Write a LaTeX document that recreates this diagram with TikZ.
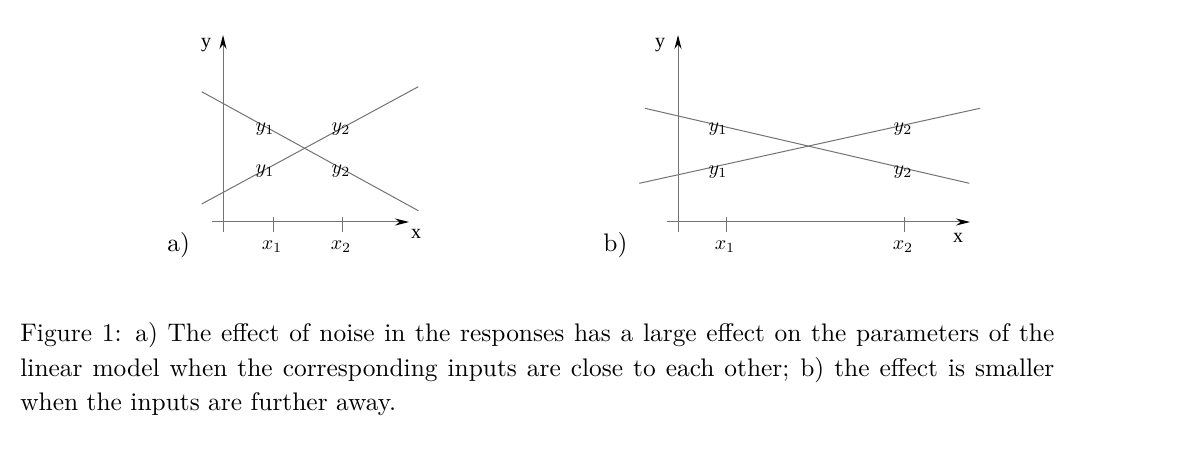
\documentclass[tikz,border=0pt]{standalone}
\usepackage{amsmath}
\usepackage{fontspec}
\usepackage{tikz}
\usetikzlibrary{arrows.meta}
\newfontfamily\xfigfont{Liberation Serif}
\newfontfamily\capfont{lmroman10-regular.otf}

\begin{document}
\begin{tikzpicture}[x=0.5pt,y=-0.5pt,
  axis/.style={draw=black!55,line width=0.5pt,-{Stealth[length=7pt,width=3.5pt,black]}},
  fitline/.style={draw=black!55,line width=0.5pt},
  tick/.style={draw=black!55,line width=0.5pt},
  axlabel/.style={font=\xfigfont\fontsize{10}{12}\selectfont,inner sep=0pt},
  ptlabel/.style={font=\fontsize{10}{12}\selectfont,inner sep=0pt},
  panel/.style={font=\capfont\fontsize{12.7}{14}\selectfont,inner sep=0pt,anchor=base west}]
\useasboundingbox (0,0) rectangle (1177,459);

% a) inputs close to each other
\draw [axis] (223,232) -- (223,35);
\draw [axis] (212,222) -- (409,222);
\draw [tick] (273,217) -- (273,232);
\draw [tick] (342,217) -- (342,232);
\draw [fitline] (201.7,91.7) -- (418.3,210.7);
\draw [fitline] (201.7,204) -- (418.3,86.7);
\node [axlabel] (ya) at (206,45) {y};
\node [axlabel] (xa) at (416,234) {x};
\node [ptlabel,anchor=base] (xa1) at (272,250) {$x_1$};
\node [ptlabel,anchor=base] (xa2) at (341,250) {$x_2$};
\node [ptlabel] (ya1up) at (265,129) {$y_1$};
\node [ptlabel] (ya1lo) at (265,171) {$y_1$};
\node [ptlabel] (ya2up) at (341,129) {$y_2$};
\node [ptlabel] (ya2lo) at (341,171) {$y_2$};
\node [panel] (pa) at (167,252) {a)};

% b) inputs further away
\draw [axis] (678,232) -- (678,35);
\draw [axis] (667,222) -- (970,222);
\draw [tick] (726,217) -- (726,232);
\draw [tick] (904,217) -- (904,232);
\draw [fitline] (645,108.3) -- (969.3,183.3);
\draw [fitline] (639.3,183.3) -- (980,108.3);
\node [axlabel] (yb) at (660,45) {y};
\node [axlabel] (xb) at (958,238) {x};
\node [ptlabel,anchor=base] (xb1) at (725,250) {$x_1$};
\node [ptlabel,anchor=base] (xb2) at (903,250) {$x_2$};
\node [ptlabel] (yb1up) at (718,129) {$y_1$};
\node [ptlabel] (yb1lo) at (718,172) {$y_1$};
\node [ptlabel] (yb2up) at (903,129) {$y_2$};
\node [ptlabel] (yb2lo) at (903,172) {$y_2$};
\node [panel] (pb) at (603,252) {b)};

\node [anchor=base west,inner sep=0pt,text width=517pt,align=justify,
  font=\capfont\fontsize{12.7}{17.25}\selectfont] (caption) at (20,342)
  {Figure 1: a) The effect of noise in the responses has a large effect on the parameters of the linear model when the corresponding inputs are close to each other; b) the effect is smaller when the inputs are further away.};
\end{tikzpicture}
\end{document}
